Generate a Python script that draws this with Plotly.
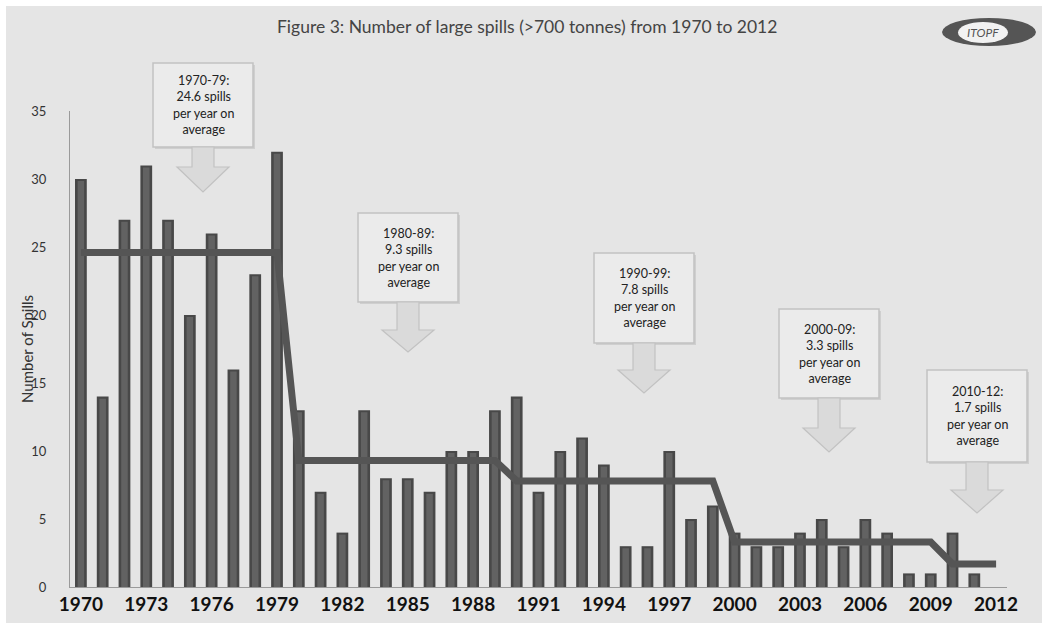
import plotly.graph_objects as go

# ---------------- data ----------------
years = [str(y) for y in range(1970, 2013)]
spills = [30, 14, 27, 31, 27, 20, 26, 16, 23, 32,
          13, 7, 4, 13, 8, 8, 7, 10, 10, 13,
          14, 7, 10, 11, 9, 3, 3, 10, 5, 6,
          4, 3, 3, 4, 5, 3, 5, 4, 1, 1,
          4, 1, None]
period_labels = ["1970-79", "1980-89", "1990-99", "2000-09", "2010-12"]
period_avgs = [24.6, 9.3, 7.8, 3.3, 1.7]
period_lengths = [10, 10, 10, 10, 3]
avg_line = []
for v, n in zip(period_avgs, period_lengths):
    avg_line += [v] * n
tick_years = [str(y) for y in range(1970, 2013, 3)]
y_ticks = [0, 5, 10, 15, 20, 25, 30, 35]

# ---------------- layout helpers (pixels -> paper) ----------------
W_PX, H_PX = 1042, 623
L, R, T, B = 70, 1007, 111, 587
PW, PH = R - L, B - T


def px(x):
    return (x - L) / PW


def py(y):
    return (B - y) / PH


FONT = "Lato"
BG = "#e5e5e5"

fig = go.Figure()

fig.add_trace(go.Bar(x=years, y=spills, width=0.54,
                     marker=dict(color="#484848", line=dict(width=0)),
                     hoverinfo="x+y", showlegend=False))
fig.add_trace(go.Bar(x=years, y=[None if v is None else v - 0.15 for v in spills], width=0.3,
                     marker=dict(color="#626262", line=dict(width=0)),
                     hoverinfo="skip", showlegend=False))
fig.add_trace(go.Scatter(x=years, y=avg_line, mode="lines",
                         line=dict(color="#555555", width=7),
                         hoverinfo="y", showlegend=False))

shapes = []
# panel background
shapes.append(dict(type="rect", xref="paper", yref="paper", layer="below",
                   x0=px(6), x1=px(1042), y0=py(623), y1=py(6),
                   fillcolor=BG, line=dict(width=0)))

annotations = []
# callout boxes: (center x, box top, box bottom, arrow head top, tip)
callouts = [
    (203, 63, 147, 167, 192),
    (408, 213, 302, 330, 352),
    (644, 253, 343, 370, 393),
    (829, 309, 398, 428, 452),
    (977, 370, 462, 490, 513),
]
for (cx, bt, bb, ht, tip), lab, avg in zip(callouts, period_labels, period_avgs):
    bw = 50
    # shadow
    shapes.append(dict(type="rect", xref="paper", yref="paper", layer="above",
                       x0=px(cx - bw + 2), x1=px(cx + bw + 2), y0=py(bb + 2), y1=py(bt + 2),
                       fillcolor="#cfcfcf", line=dict(width=0)))
    shapes.append(dict(type="rect", xref="paper", yref="paper", layer="above",
                       x0=px(cx - bw), x1=px(cx + bw), y0=py(bb), y1=py(bt),
                       fillcolor="#ebebeb", line=dict(color="#c2c2c2", width=1.5)))
    sw, hw = 11, 26
    path = (f"M {px(cx - sw)},{py(bb)} L {px(cx + sw)},{py(bb)} L {px(cx + sw)},{py(ht)} "
            f"L {px(cx + hw)},{py(ht)} L {px(cx)},{py(tip)} L {px(cx - hw)},{py(ht)} "
            f"L {px(cx - sw)},{py(ht)} Z")
    shapes.append(dict(type="path", xref="paper", yref="paper", layer="above", path=path,
                       fillcolor="#dadada", line=dict(color="#c2c2c2", width=1.2)))
    annotations.append(dict(xref="paper", yref="paper", x=px(cx), y=py((bt + bb) / 2),
                            xanchor="center", yanchor="middle",
                            text=f"{lab}:<br>{avg} spills<br>per year on<br>average",
                            showarrow=False, align="center",
                            font=dict(family=FONT, size=12.5, color="#222222")))

# logo
shapes.append(dict(type="circle", xref="paper", yref="paper", layer="above",
                   x0=px(942), x1=px(1036), y0=py(46), y1=py(18),
                   fillcolor="#555555", line=dict(width=0)))
shapes.append(dict(type="circle", xref="paper", yref="paper", layer="above",
                   x0=px(958), x1=px(1008), y0=py(43), y1=py(22),
                   fillcolor="#f2f2f2", line=dict(width=0)))
annotations.append(dict(xref="paper", yref="paper", x=px(983), y=py(33),
                        xanchor="center", yanchor="middle",
                        text="<i>ITOPF</i>", showarrow=False,
                        font=dict(family=FONT, size=12, color="#555555")))

# title
annotations.append(dict(xref="paper", yref="paper", x=px(527), y=py(27),
                        xanchor="center", yanchor="middle",
                        text="Figure 3: Number of large spills (>700 tonnes) from 1970 to 2012",
                        showarrow=False,
                        font=dict(family=FONT, size=17.5, color="#444444")))
# y axis title
annotations.append(dict(xref="paper", yref="paper", x=px(27), y=py(349),
                        xanchor="center", yanchor="middle",
                        text="Number of Spills", textangle=-90, showarrow=False,
                        font=dict(family=FONT, size=15, color="#333333")))

fig.update_layout(
    width=W_PX, height=H_PX,
    margin=dict(l=L, r=W_PX - R, t=T, b=H_PX - B, pad=0, autoexpand=False),
    paper_bgcolor="white", plot_bgcolor="rgba(0,0,0,0)",
    barmode="overlay", bargap=0.46,
    shapes=shapes, annotations=annotations,
    font=dict(family=FONT),
    xaxis=dict(type="category", tickmode="array", tickvals=tick_years, ticktext=tick_years,
               showline=True, linecolor="#9a9a9a", linewidth=1.2, ticks="",
               showgrid=False, zeroline=False, automargin=False,
               tickfont=dict(family=FONT, size=19, color="#111111", weight="bold"),
               range=[-0.5, len(years) - 0.5]),
    yaxis=dict(range=[0, 35], tickvals=y_ticks, showline=True, linecolor="#9a9a9a",
               linewidth=1.2, ticks="", showgrid=False, zeroline=False, automargin=False,
               ticklabelstandoff=20,
               tickfont=dict(family=FONT, size=13, color="#333333")),
)

fig.write_html("out.html", config={"displayModeBar": False},
               post_script="document.body.style.margin='0';")
